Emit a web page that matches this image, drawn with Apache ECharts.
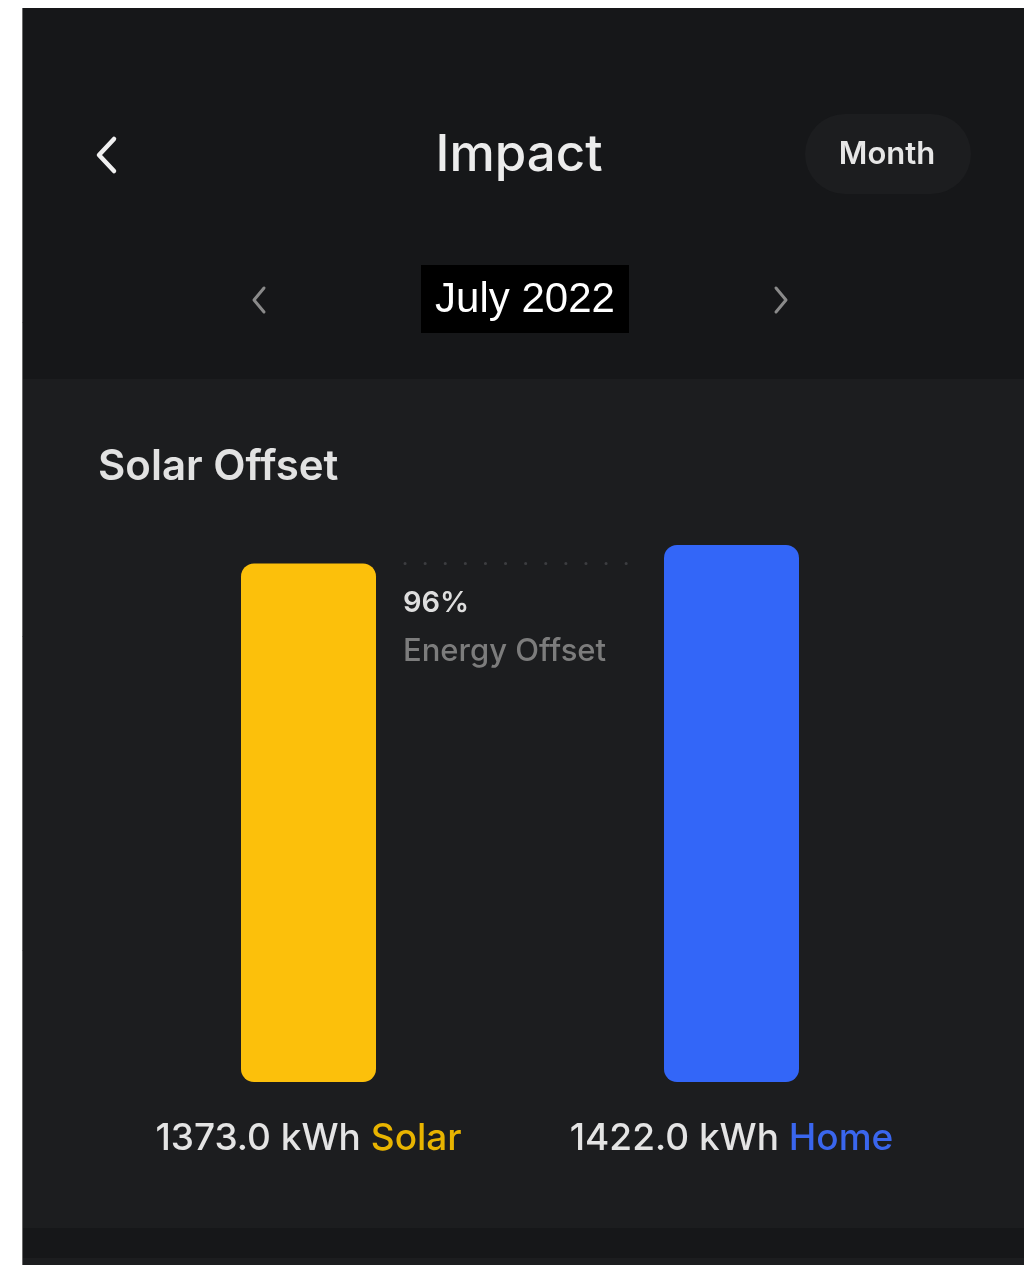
<!DOCTYPE html>
<html>
<head>
<meta charset="utf-8">
<script src="https://cdn.jsdelivr.net/npm/echarts@6/dist/echarts.min.js"></script>
<style>
html,body{margin:0;padding:0;background:#ffffff;}
#c{width:1024px;height:1265px;}
</style>
</head>
<body>
<div id="c"></div>
<script>
var categories = ['Solar', 'Home'];
var values = [1373.0, 1422.0];
var unit = 'kWh';
var barColors = ['#fcc00b', '#3366f8'];
var offsetPercent = '96%';
var offsetLabel = 'Energy Offset';
var pageTitle = 'Impact';
var periodLabel = 'July 2022';
var periodMode = 'Month';
var cardTitle = 'Solar Offset';

var FONT = 'Inter, "Noto Sans", sans-serif';
var chart = echarts.init(document.getElementById('c'), null, {renderer: 'canvas'});

function chevron(x1, y1, x2, y2, x3, y3, color, w) {
  return {type: 'polyline', shape: {points: [[x1, y1], [x2, y2], [x3, y3]]},
    style: {stroke: color, lineWidth: w, fill: null, lineCap: 'round', lineJoin: 'round'}, z: 5};
}

var option = {
  backgroundColor: '#ffffff',
  animation: false,
  grid: {left: 97, width: 846, top: 545, bottom: 183},
  xAxis: {
    type: 'category',
    data: categories,
    axisLine: {show: false}, axisTick: {show: false},
    axisLabel: {
      margin: 38,
      formatter: function (v, i) {
        var key = i === 0 ? 'a' : 'b';
        return '{v|' + values[i].toFixed(1) + ' ' + unit + ' }{' + key + '|' + v + '}';
      },
      rich: {
        v: {color: '#e4e4e4', fontSize: 37, fontFamily: FONT, fontWeight: 500},
        a: {color: '#e8b400', fontSize: 37, fontFamily: FONT, fontWeight: 500},
        b: {color: '#3a66ee', fontSize: 37, fontFamily: FONT, fontWeight: 500}
      }
    }
  },
  yAxis: {type: 'value', min: 0, max: 1422, show: false, splitLine: {show: false}},
  series: [{
    type: 'bar',
    barWidth: 135,
    data: values.map(function (v, i) {
      return {value: v, itemStyle: {color: barColors[i], borderRadius: 13}};
    }),
    z: 3
  }],
  graphic: [
    {type: 'rect', shape: {x: 22, y: 8, width: 1002, height: 1257}, style: {fill: '#161719'}, z: -10},
    {type: 'rect', shape: {x: 22, y: 379, width: 1002, height: 849}, style: {fill: '#1c1d1f'}, z: -9},
    {type: 'rect', shape: {x: 22, y: 1258, width: 1002, height: 7}, style: {fill: '#1c1d1f'}, z: -9},
    {type: 'line', shape: {x1: 22.5, y1: 8, x2: 22.5, y2: 1265}, style: {stroke: '#6a6a6a', lineWidth: 1}, z: -8},
    chevron(114, 139, 99, 155, 114, 171, '#f0f0f0', 4.5),
    {type: 'text', style: {text: pageTitle, x: 519, y: 156, align: 'center', verticalAlign: 'middle',
      fill: '#ececec', font: '500 51px ' + FONT}, z: 5},
    {type: 'rect', shape: {x: 805, y: 114, width: 166, height: 80, r: 40}, style: {fill: '#1c1d1f'}, z: 4},
    {type: 'text', style: {text: periodMode, x: 887, y: 155, align: 'center', verticalAlign: 'middle',
      fill: '#e6e6e6', font: '600 31px ' + FONT}, z: 5},
    {type: 'rect', shape: {x: 421, y: 265, width: 208, height: 68}, style: {fill: '#000000'}, z: 4},
    {type: 'text', style: {text: periodLabel, x: 525, y: 300, align: 'center', verticalAlign: 'middle',
      fill: '#ffffff', font: '42px "Liberation Sans", Arial, sans-serif'}, z: 5},
    chevron(264, 288, 254, 300, 264, 312, '#8a8a8a', 3),
    chevron(776, 288, 786, 300, 776, 312, '#8a8a8a', 3),
    {type: 'text', style: {text: cardTitle, x: 98, y: 467, align: 'left', verticalAlign: 'middle',
      fill: '#e2e2e2', font: '600 42px ' + FONT}, z: 5},
    {type: 'text', style: {text: offsetPercent, x: 403, y: 603, align: 'left', verticalAlign: 'middle',
      fill: '#dedede', font: '600 29px ' + FONT}, z: 5},
    {type: 'text', style: {text: offsetLabel, x: 403, y: 652, align: 'left', verticalAlign: 'middle',
      fill: '#7c7c7c', font: '500 31px ' + FONT}, z: 5}
  ]
};
chart.setOption(option);

var ySolar = chart.convertToPixel({yAxisIndex: 0}, values[0]);
chart.setOption({
  series: [{
    markLine: {
      silent: true, symbol: 'none', label: {show: false},
      lineStyle: {color: '#3c3d40', width: 3, type: [0.1, 20], cap: 'round'},
      data: [[{x: 405, y: ySolar}, {x: 632, y: ySolar}]]
    }
  }]
});
</script>
</body>
</html>
